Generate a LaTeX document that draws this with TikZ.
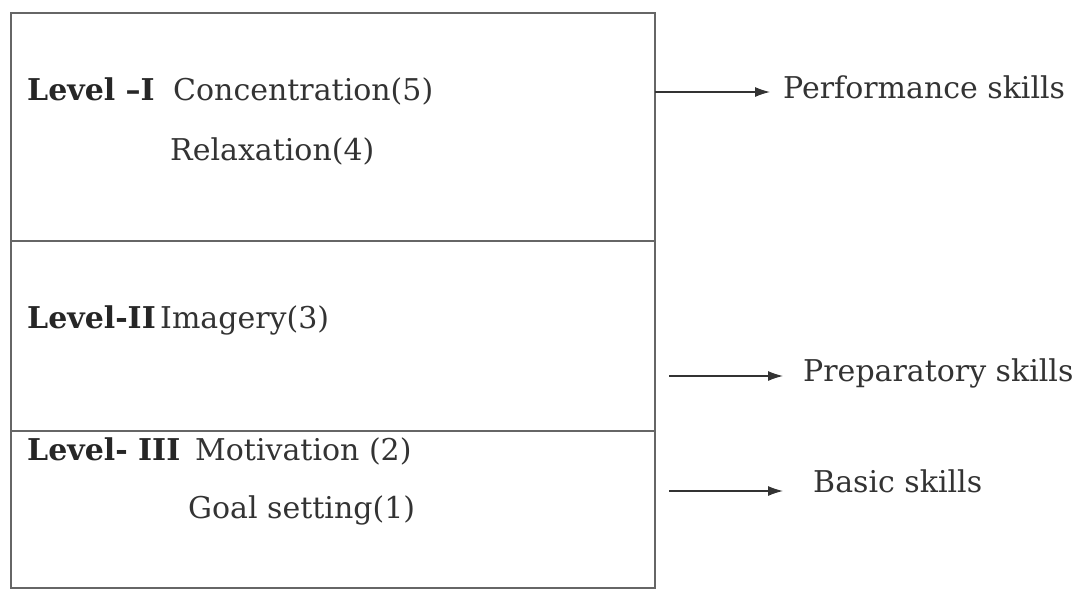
\documentclass[tikz,border=0pt]{standalone}
\usepackage{fontspec}
\setmainfont{DejaVu Serif}
\usetikzlibrary{arrows.meta}
\definecolor{ink}{HTML}{333333}
\definecolor{rule}{HTML}{666666}
\tikzset{
  frame/.style={draw=rule, line width=1.2pt},
  lbl/.style={anchor=base west, inner sep=0pt, text=ink, font=\fontsize{30}{36}\selectfont},
  lvl/.style={lbl, text=black!85, font=\fontsize{30}{36}\selectfont\bfseries},
  arr/.style={draw=ink, line width=1.2pt, -{Latex[length=15pt,width=10pt]}}
}
\begin{document}
\begin{tikzpicture}[x=1pt,y=-1pt]
\useasboundingbox (0,0) rectangle (1081,589);
\draw[frame] (11,13) rectangle (655,588);
\draw[frame] (11,241) -- (655,241);
\draw[frame] (11,431) -- (655,431);
% level I
\node[lvl] (l1) at (27,100) {Level –I};
\node[lbl] (c5) at (173,100) {Concentration(5)};
\node[lbl] (r4) at (170,160) {Relaxation(4)};
% level II
\node[lvl] (l2) at (27,328) {Level-II};
\node[lbl] (i3) at (160,328) {Imagery(3)};
% level III
\node[lvl] (l3) at (27,460) {Level- III};
\node[lbl] (m2) at (195,460) {Motivation (2)};
\node[lbl] (g1) at (188,518) {Goal setting(1)};
% right labels
\node[lbl] (ps) at (783,98) {Performance skills};
\node[lbl] (pr) at (803,381) {Preparatory skills};
\node[lbl] (bs) at (813,492) {Basic skills};
\coordinate (a1) at (655,92);
\coordinate (a2) at (669,376);
\coordinate (a3) at (669,491);
\draw[arr] (a1) -- ([xshift=-13pt]ps.west |- a1);
\draw[arr] (a2) -- ([xshift=-20pt]pr.west |- a2);
\draw[arr] (a3) -- ([xshift=-30pt]bs.west |- a3);
\end{tikzpicture}
\end{document}
